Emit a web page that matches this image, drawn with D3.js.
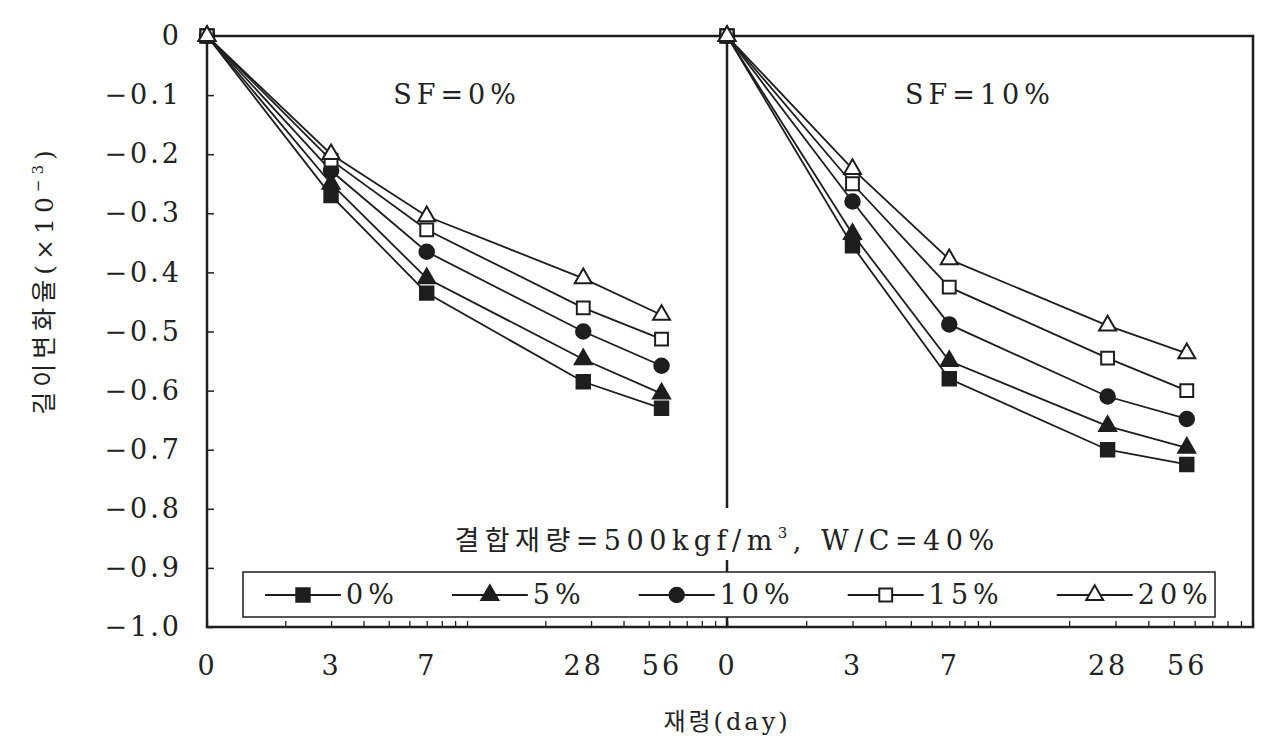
<!DOCTYPE html>
<html>
<head>
<meta charset="utf-8">
<script src="https://cdn.jsdelivr.net/npm/d3@7"></script>
<style>
  body { margin: 0; background: #fff; }
  text { font-family: "DejaVu Serif", "Noto Sans CJK KR", serif; fill: #222; }
</style>
</head>
<body>
<svg width="1261" height="743"></svg>
<script>
// data
var days = [0, 3, 7, 28, 56];
var dayLabels = ["0", "3", "7", "28", "56"];
var mixLabels = ["0%", "5%", "10%", "15%", "20%"];
var yTicks = [0, -0.1, -0.2, -0.3, -0.4, -0.5, -0.6, -0.7, -0.8, -0.9, -1.0];

// SF = 0%
var sf0Mix0  = [0, -0.270, -0.435, -0.585, -0.630];
var sf0Mix5  = [0, -0.250, -0.410, -0.547, -0.605];
var sf0Mix10 = [0, -0.228, -0.365, -0.500, -0.558];
var sf0Mix15 = [0, -0.210, -0.328, -0.460, -0.513];
var sf0Mix20 = [0, -0.200, -0.305, -0.410, -0.472];

// SF = 10%
var sf10Mix0  = [0, -0.355, -0.580, -0.700, -0.725];
var sf10Mix5  = [0, -0.335, -0.550, -0.660, -0.697];
var sf10Mix10 = [0, -0.280, -0.488, -0.610, -0.648];
var sf10Mix15 = [0, -0.250, -0.425, -0.545, -0.600];
var sf10Mix20 = [0, -0.225, -0.378, -0.490, -0.537];

var panels = [
  { title: "SF=0%", series: [sf0Mix0, sf0Mix5, sf0Mix10, sf0Mix15, sf0Mix20], x0: 207, x1: 727 },
  { title: "SF=10%", series: [sf10Mix0, sf10Mix5, sf10Mix10, sf10Mix15, sf10Mix20], x0: 727, x1: 1253 }
];

var ink = "#1e1e1e";
var plotTop = 36, plotBottom = 627;

var svg = d3.select("svg");

var yScale = d3.scaleLinear()
    .domain([-1, 0])
    .range([plotBottom, plotTop]);

// marker per mix ratio
var shapes = [d3.symbolSquare, d3.symbolTriangle, d3.symbolCircle, d3.symbolSquare, d3.symbolTriangle];
var sizes = [180, 125, 165, 165, 125];
var filled = [true, true, true, false, false];

function marker(sel, i) {
  sel.attr("d", d3.symbol().type(shapes[i]).size(sizes[i]))
    .attr("fill", filled[i] ? ink : "#fff")
    .attr("stroke", ink)
    .attr("stroke-width", 2);
}

// day 0 sits where 1 would be on the log axis
function dayPos(d) { return Math.max(d, 1); }

// the frame
svg.append("rect")
    .attr("x", 207).attr("y", plotTop)
    .attr("width", 1253 - 207).attr("height", plotBottom - plotTop)
    .attr("fill", "none").attr("stroke", ink).attr("stroke-width", 2.5);

svg.append("line")
    .attr("x1", 727).attr("x2", 727)
    .attr("y1", plotTop).attr("y2", plotBottom)
    .attr("stroke", ink).attr("stroke-width", 2.5);

// y axis
var yAxis = d3.axisLeft(yScale)
    .tickValues(yTicks)
    .tickSize(-7)
    .tickPadding(25)
    .tickFormat(function(d) { return d === 0 ? "0" : d3.format(".1f")(d); });

svg.append("g")
    .attr("class", "y axis")
    .attr("transform", "translate(207,0)")
    .call(yAxis)
    .call(function(g) {
      g.select(".domain").remove();
      g.selectAll("line").attr("stroke", ink).attr("stroke-width", 1.5);
      g.selectAll("text").attr("font-size", 27).attr("letter-spacing", 3)
        .style("font-family", "DejaVu Serif").attr("fill", "#222");
    });

panels.forEach(function(p) {
  var xScale = d3.scaleLog()
      .domain([1, 100])
      .range([p.x0, p.x1]);

  // small log ticks along the bottom
  svg.append("g")
      .attr("transform", "translate(0," + plotBottom + ")")
      .call(d3.axisBottom(xScale).tickValues(xScale.ticks()).tickSize(-6).tickFormat(""))
      .call(function(g) {
        g.select(".domain").remove();
        g.selectAll("line").attr("stroke", ink).attr("stroke-width", 1.3);
      });

  // day labels
  svg.append("g")
      .attr("transform", "translate(0," + plotBottom + ")")
      .call(d3.axisBottom(xScale).tickValues(days.map(dayPos)).tickSize(0).tickPadding(29)
        .tickFormat(function(d, i) { return dayLabels[i]; }))
      .call(function(g) {
        g.select(".domain").remove();
        g.selectAll("text").attr("font-size", 27).attr("letter-spacing", 3)
          .style("font-family", "DejaVu Serif").attr("fill", "#222");
      });

  var line = d3.line()
      .x(function(d, i) { return xScale(dayPos(days[i])); })
      .y(function(d) { return yScale(d); });

  var g = svg.append("g");

  p.series.forEach(function(vals) {
    g.append("path")
        .attr("d", line(vals))
        .attr("fill", "none")
        .attr("stroke", ink)
        .attr("stroke-width", 1.8);
  });

  p.series.forEach(function(vals, si) {
    g.selectAll(null)
        .data(vals)
        .enter()
        .append("path")
        .attr("transform", function(d, i) {
          return "translate(" + xScale(dayPos(days[i])) + "," + yScale(d) + ")";
        })
        .call(marker, si);
  });

  svg.append("text")
      .attr("x", (xScale(1) + xScale(100)) / 2 - 10)
      .attr("y", 104)
      .attr("text-anchor", "middle")
      .attr("font-size", 27)
      .attr("letter-spacing", 5)
      .text(p.title);
});

// note above the legend
svg.append("rect")
    .attr("x", 430).attr("y", 508)
    .attr("width", 594).attr("height", 52)
    .attr("fill", "#fff");

var note = svg.append("text")
    .attr("x", 727).attr("y", 550)
    .attr("text-anchor", "middle")
    .attr("font-size", 27)
    .attr("letter-spacing", 5.5);
note.append("tspan").text("결합재량=500kgf/m");
note.append("tspan").attr("font-size", 15).attr("dy", -12).text("3");
note.append("tspan").attr("dy", 12).text(", W/C=40%");

// legend
svg.append("rect")
    .attr("x", 243).attr("y", 572)
    .attr("width", 972).attr("height", 45)
    .attr("fill", "#fff").attr("stroke", ink).attr("stroke-width", 1.5);

var lx = 265, ly = 595, lineW = 76;
mixLabels.forEach(function(lab, i) {
  var item = svg.append("g");
  item.append("line")
      .attr("x1", lx).attr("x2", lx + lineW)
      .attr("y1", ly).attr("y2", ly)
      .attr("stroke", ink).attr("stroke-width", 2);
  item.append("path")
      .attr("transform", "translate(" + (lx + lineW / 2) + "," + ly + ")")
      .call(marker, i);
  var t = item.append("text")
      .attr("x", lx + lineW + 5).attr("y", ly)
      .attr("dy", "0.35em")
      .attr("font-size", 27)
      .attr("letter-spacing", 5)
      .text(lab);
  lx += lineW + 5 + t.node().getComputedTextLength() + 53;
});

// axis titles
svg.append("text")
    .attr("x", 727).attr("y", 730)
    .attr("text-anchor", "middle")
    .attr("font-size", 24)
    .attr("letter-spacing", 3)
    .text("재령(day)");

var yTitle = svg.append("text")
    .attr("transform", "translate(53,280)rotate(-90)")
    .attr("text-anchor", "middle")
    .attr("font-size", 25)
    .attr("letter-spacing", 5);
yTitle.append("tspan").text("길이변화율(×10");
yTitle.append("tspan").attr("font-size", 15).attr("dy", -10).text("−3");
yTitle.append("tspan").attr("dy", 10).text(")");
</script>
</body>
</html>
